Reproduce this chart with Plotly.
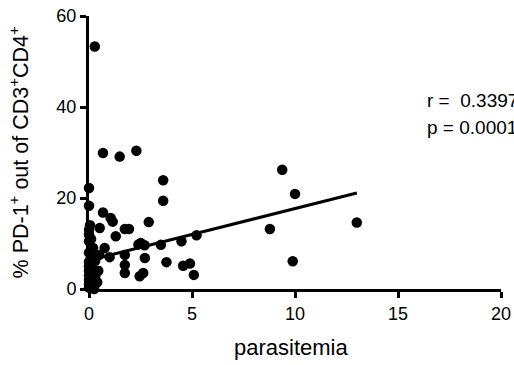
import plotly.graph_objects as go

# parasitemia (x) and % PD-1+ of CD3+CD4+ (y)
parasitemia = [
    0.0, 0.0, 0.05, 0.0, 0.0, 0.1, 0.0, 0.2, 0.0, 0.1, 0.0, 0.3, 0.0, 0.1, 0.0, 0.2,
    0.0, 0.3, 0.0, 0.1, 0.0, 0.2, 0.0, 0.4, 0.45, 0.28,
    0.68, 1.49, 2.30, 3.6, 3.6, 0.68, 1.05, 1.15, 2.9, 0.52, 1.74, 1.94, 1.3, 0.76,
    0.5, 2.51, 2.4, 2.7, 3.49, 4.49, 5.22, 1.74, 2.71, 3.76, 4.57, 4.9, 5.09, 1.74,
    1.74, 2.46, 2.63, 9.38, 10.0, 8.78, 9.89, 13.0, 1.0, 0.25,
]
pd1_pct = [
    22.2, 18.3, 14.0, 13.0, 12.0, 11.0, 10.5, 9.0, 8.0, 7.0, 6.0, 6.2, 5.0, 4.5, 4.0, 3.5,
    3.0, 2.8, 2.0, 1.5, 1.0, 0.8, 0.3, 1.5, 4.0, 53.3,
    29.9, 29.1, 30.4, 23.9, 19.4, 16.8, 15.6, 14.8, 14.7, 13.4, 13.2, 13.2, 11.6, 9.0,
    7.5, 10.1, 9.8, 9.6, 9.7, 10.5, 11.8, 7.5, 6.8, 5.9, 5.1, 5.6, 3.1, 5.3,
    3.5, 2.8, 3.5, 26.2, 20.9, 13.2, 6.1, 14.6, 7.0, 0.0,
]

# linear regression line endpoints
fit_x = [0, 13.0]
fit_y = [6.3, 21.1]

x_ticks = [0, 5, 10, 15, 20]
y_ticks = [0, 20, 40, 60]

stat_labels = ["r =  0.3397", "p = 0.0001"]

FONT = "Arial, Liberation Sans, sans-serif"

fig = go.Figure()
fig.add_trace(go.Scatter(
    x=parasitemia, y=pd1_pct, mode="markers",
    marker=dict(color="black", size=10.5, line=dict(width=0)),
    cliponaxis=False, showlegend=False,
))
fig.add_trace(go.Scatter(
    x=fit_x, y=fit_y, mode="lines",
    line=dict(color="black", width=3),
    cliponaxis=False, showlegend=False,
))

axis_common = dict(
    showgrid=False, zeroline=False, showline=True, linecolor="black", linewidth=3,
    ticks="outside", ticklen=6, tickwidth=3, tickcolor="black",
    tickfont=dict(family=FONT, size=18, color="black"),
    ticklabeloverflow="allow", automargin=False,
)
fig.update_xaxes(range=[0, 20], tickvals=x_ticks, **axis_common)
fig.update_yaxes(range=[0, 60], tickvals=y_ticks, **axis_common)

fig.add_annotation(text="parasitemia", xref="paper", yref="paper", x=0.49, y=-0.216,
                   showarrow=False, font=dict(family=FONT, size=22, color="black"),
                   xanchor="center", yanchor="middle")
fig.add_annotation(text="% PD-1<sup>+</sup> out of CD3<sup>+</sup>CD4<sup>+</sup>",
                   xref="paper", yref="paper", x=-0.17, y=0.5, textangle=-90,
                   showarrow=False, font=dict(family=FONT, size=21.5, color="black"),
                   xanchor="center", yanchor="middle")
for lbl, yy in zip(stat_labels, [0.692, 0.593]):
    fig.add_annotation(text=lbl, xref="paper", yref="paper", x=0.816, y=yy,
                       showarrow=False, font=dict(family=FONT, size=19, color="black"),
                       xanchor="left", yanchor="middle")

fig.update_layout(
    width=514, height=365,
    margin=dict(l=89, r=13, t=16, b=76, autoexpand=False),
    paper_bgcolor="white", plot_bgcolor="white",
)

fig.write_html(
    "out.html",
    config={"displayModeBar": False, "staticPlot": True},
    post_script="document.body.style.margin='0';document.body.style.overflow='hidden';",
)
